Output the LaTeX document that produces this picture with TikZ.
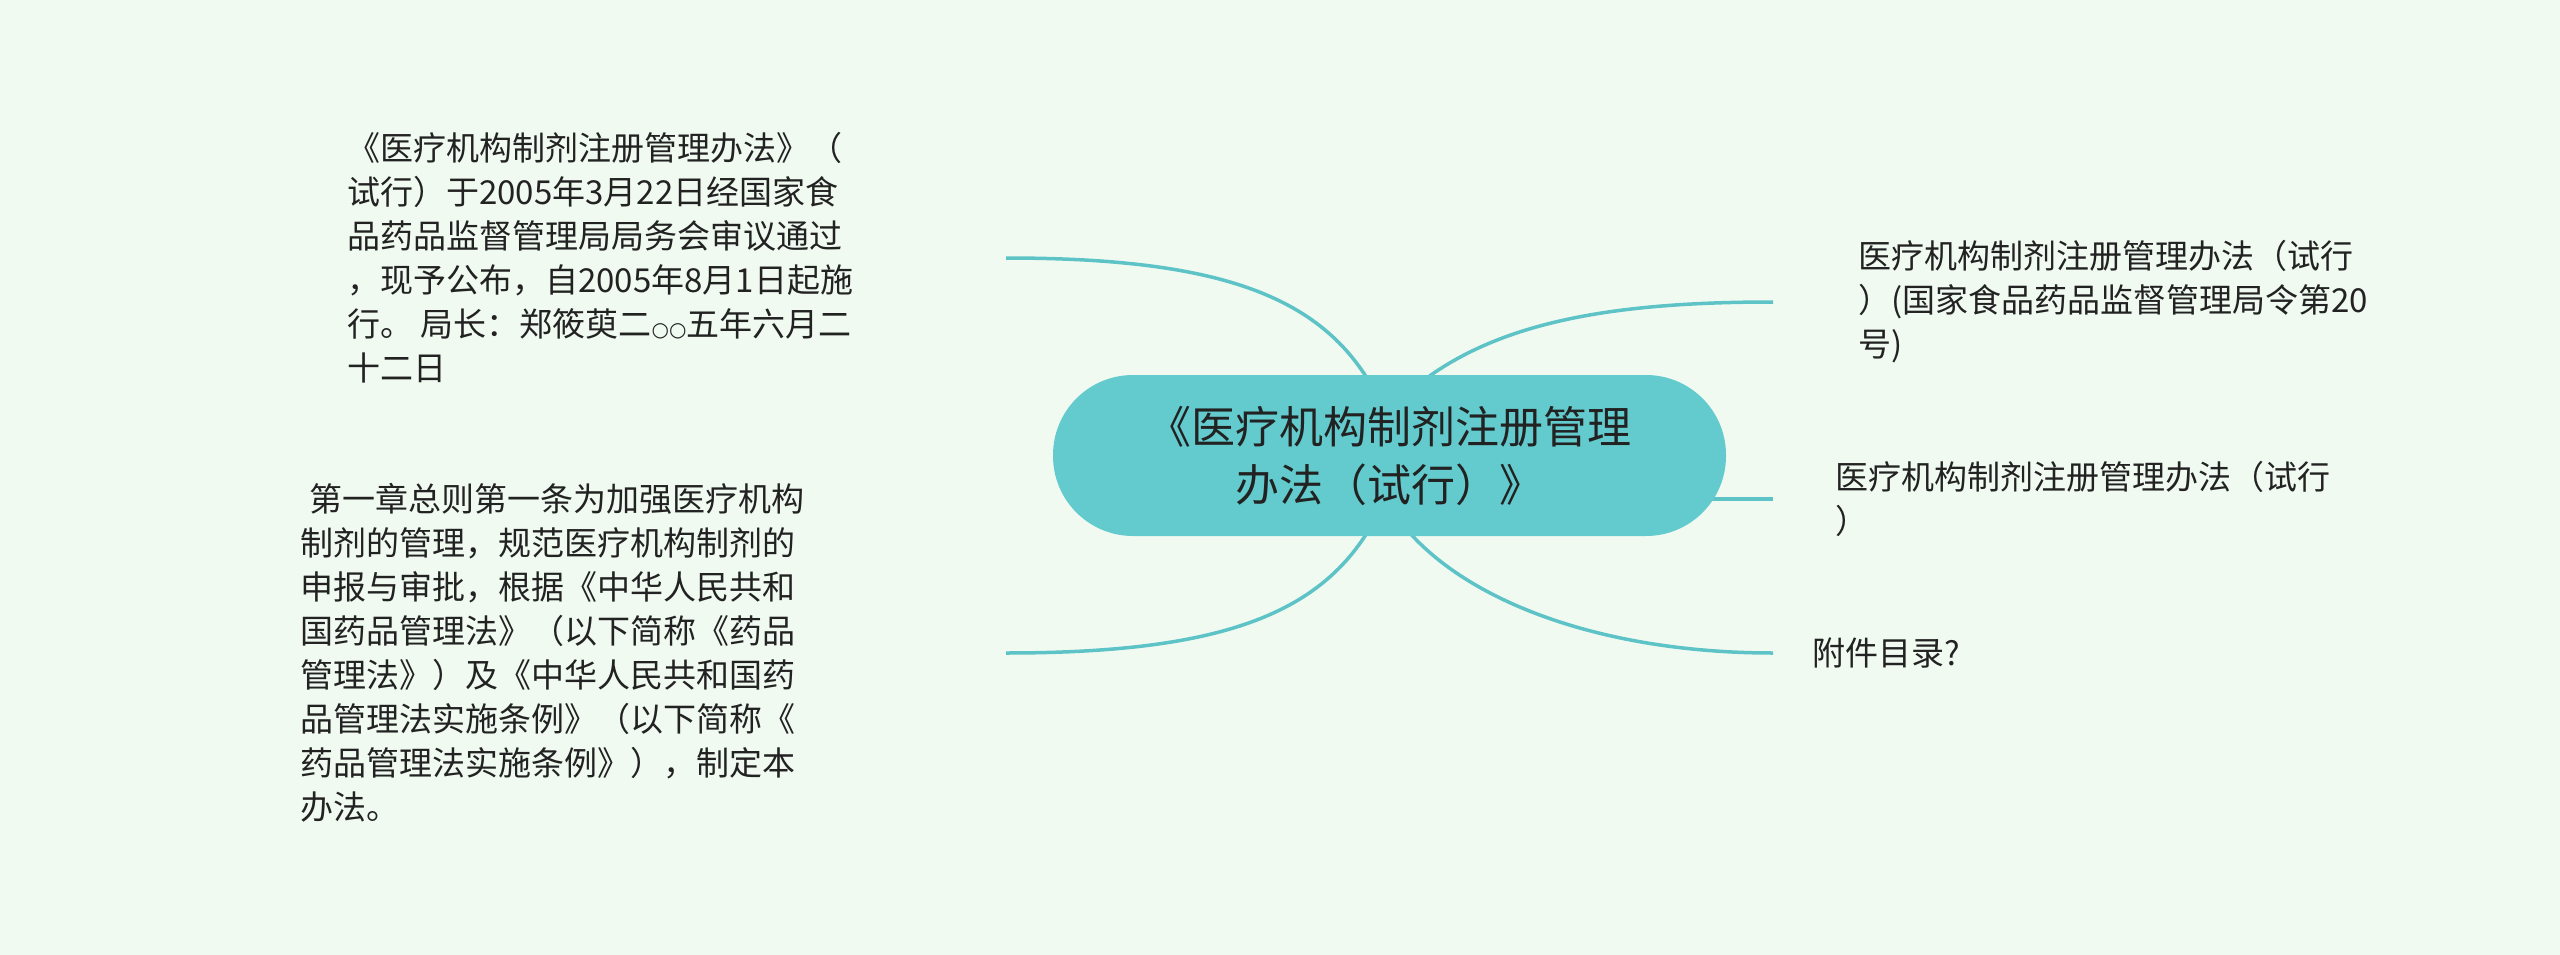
\documentclass[tikz,border=0pt]{standalone}
\usepackage{fontspec}
\setmainfont{Noto Sans CJK SC}
\newfontfamily\dejavu{DejaVu Sans}
\usetikzlibrary{calc}
\definecolor{bgc}{HTML}{F0FAF1}
\definecolor{nodec}{HTML}{63CBCD}
\definecolor{linec}{HTML}{5DC3C6}
\definecolor{txtc}{HTML}{222222}
\pgfdeclarelayer{bglayer}
\pgfdeclarelayer{connlayer}
\pgfsetlayers{bglayer,connlayer,main}
\tikzset{
  conn/.style={draw=linec, line width=3.5pt},
  leaf/.style={inner sep=0pt, anchor=west, align=left, text=txtc, font=\fontsize{33}{44}\selectfont},
  rootbox/.style={fill=nodec, rounded corners=80pt, minimum width=673pt, minimum height=161pt, inner sep=0pt, align=center, text=txtc, font=\fontsize{44}{58}\selectfont}
}
\begin{document}
\begin{tikzpicture}[x=1pt,y=-1pt]
\begin{pgfonlayer}{bglayer}
  \fill[bgc] (0,0) rectangle (2560,955);
\end{pgfonlayer}
\useasboundingbox (0,0) rectangle (2560,955);

\node[rootbox] (c) at (1389.5,455.5) {《医疗机构制剂注册管理\\办法（试行）》};

\coordinate (tlend) at (1006,258);
\coordinate (blend) at (1006,653);
\coordinate (r1end) at (1773,302);
\coordinate (r2end) at (1773,499);
\coordinate (r3end) at (1773,653);

\node[leaf] (tl) at (347,258) {《医疗机构制剂注册管理办法》（\\试行）于2005年3月22日经国家食\\品药品监督管理局局务会审议通过\\，现予公布，自2005年8月1日起施\\行。 局长：郑筱萸二{\dejavu\fontsize{20}{20}\selectfont ○○}五年六月二\\十二日};
\node[leaf] (bl) at (300,653) {\hspace*{9pt}第一章总则第一条为加强医疗机构\\制剂的管理，规范医疗机构制剂的\\申报与审批，根据《中华人民共和\\国药品管理法》（以下简称《药品\\管理法》）及《中华人民共和国药\\品管理法实施条例》（以下简称《\\药品管理法实施条例》），制定本\\办法。};
\node[leaf] (r1) at (1858,302) {医疗机构制剂注册管理办法（试行\\）(国家食品药品监督管理局令第20\\号)};
\node[leaf] (r2) at (1835,499) {医疗机构制剂注册管理办法（试行\\）};
\node[leaf] (r3) at (1812,653) {附件目录?};

\begin{pgfonlayer}{connlayer}
  \draw[conn] (tlend) .. controls (1230,258) and (1330,300) .. ($(c.center)+(-10,-55)$);
  \draw[conn] (blend) .. controls (1230,653) and (1330,611) .. ($(c.center)+(-10,55)$);
  \draw[conn] (r1end) .. controls (1600,302) and (1480,325) .. ($(c.center)+(10,-55)$);
  \draw[conn] ($(c.center)+(300,43.5)$) -- (r2end);
  \draw[conn] (r3end) .. controls (1600,653) and (1460,600) .. ($(c.center)+(10,65)$);
\end{pgfonlayer}
\end{tikzpicture}
\end{document}
